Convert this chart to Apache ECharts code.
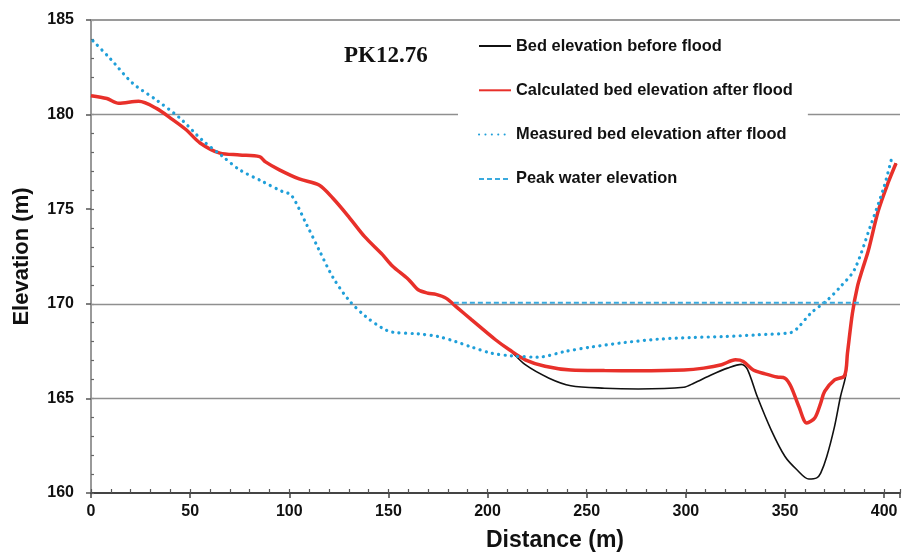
<!DOCTYPE html>
<html>
<head>
<meta charset="utf-8">
<script src="https://cdn.jsdelivr.net/npm/echarts@6/dist/echarts.min.js"></script>
<style>
html,body{margin:0;padding:0;background:#fff;}
#chart{width:903px;height:553px;}
</style>
</head>
<body>
<div id="chart"></div>
<script>
// Calculated bed elevation after flood
const calcX = [0, 8, 14, 24, 33, 41, 48, 55, 65, 75, 85, 88, 95, 105, 115, 122, 130, 138, 147, 152, 160, 165, 170, 174, 179, 185, 192, 204, 211, 219, 229, 242, 259, 276, 299, 309, 318, 325, 329, 334, 340, 346, 350, 353, 357, 361, 365, 368, 370, 375, 380, 381.5, 384, 386.5, 389, 392, 397, 402, 406];
const calcY = [181.0, 180.85, 180.6, 180.7, 180.33, 179.75, 179.2, 178.5, 177.96, 177.87, 177.78, 177.5, 177.08, 176.6, 176.28, 175.58, 174.6, 173.55, 172.6, 172.0, 171.3, 170.74, 170.56, 170.5, 170.3, 169.77, 169.15, 168.1, 167.57, 167.04, 166.7, 166.5, 166.47, 166.46, 166.5, 166.6, 166.78, 167.04, 166.95, 166.5, 166.3, 166.13, 166.07, 165.63, 164.57, 163.7, 163.96, 164.75, 165.37, 165.98, 166.19, 167.39, 169.5, 170.9, 171.8, 172.8, 174.9, 176.4, 177.43];

// Bed elevation before flood
const beforeX = [0, 8, 14, 24, 33, 41, 48, 55, 65, 75, 85, 88, 95, 105, 115, 122, 130, 138, 147, 152, 160, 165, 170, 174, 179, 185, 192, 204, 211, 219, 231, 242, 259, 276, 299, 304, 313, 321, 328, 331, 336, 343, 350, 356, 362, 366, 368, 371, 375, 378, 380.6, 381.5, 384, 386.5, 389, 392, 397, 402, 406];
const beforeY = [181.0, 180.85, 180.6, 180.7, 180.33, 179.75, 179.2, 178.5, 177.96, 177.87, 177.78, 177.5, 177.08, 176.6, 176.28, 175.58, 174.6, 173.55, 172.6, 172.0, 171.3, 170.74, 170.56, 170.5, 170.3, 169.77, 169.15, 168.1, 167.57, 166.78, 166.07, 165.67, 165.54, 165.5, 165.59, 165.8, 166.25, 166.6, 166.8, 166.55, 165.1, 163.34, 161.93, 161.23, 160.74, 160.8, 161.05, 161.9, 163.52, 165.1, 166.19, 167.39, 169.5, 170.9, 171.8, 172.8, 174.9, 176.4, 177.43];

// Measured bed elevation after flood
const measX = [1, 9.5, 21, 33, 45, 56, 66.5, 75, 86.6, 96.6, 101, 108.4, 115, 122, 130, 138.5, 147, 152, 165, 175, 184, 192, 202, 212, 225.6, 239, 252, 269, 286, 303, 319, 336, 353, 356.3, 363, 371.4, 378, 385, 393, 400, 404];
const measY = [183.9, 182.98, 181.66, 180.77, 179.8, 178.66, 177.78, 177.08, 176.46, 175.93, 175.75, 174.26, 172.85, 171.4, 170.2, 169.33, 168.71, 168.5, 168.41, 168.27, 168.0, 167.71, 167.39, 167.25, 167.18, 167.48, 167.71, 167.95, 168.13, 168.22, 168.27, 168.36, 168.48, 168.71, 169.5, 170.2, 170.91, 171.8, 174.08, 176.2, 177.78];

// Peak water elevation
const peakX = [183, 388];
const peakY = [170.05, 170.05];

const seriesNames = ['Bed elevation before flood', 'Calculated bed elevation after flood', 'Measured bed elevation after flood', 'Peak water elevation'];
const gridValues = [165, 170, 180];
const frameValue = 185;
const xTickStep = 50, xMinorStep = 10;
const yTickStep = 5, yMinorStep = 1;

function zip(xs, ys) { return xs.map((x, i) => [x, ys[i]]); }

const chart = echarts.init(document.getElementById('chart'));
const labelFont = { fontFamily: 'Liberation Sans, Arial, sans-serif', fontWeight: 'bold', fontSize: 16, color: '#111' };
const xMin = 0, xMax = 408, yMin = 160, yMax = 185;
const clear = 'rgba(0,0,0,0)';

chart.setOption({
  animation: false,
  backgroundColor: '#fff',
  grid: { left: 91, right: 0, top: 20, bottom: 60, containLabel: false },
  title: {
    text: 'PK12.76', left: 339, top: 40,
    textStyle: { fontFamily: 'Liberation Serif, Times New Roman, serif', fontWeight: 'bold', fontSize: 23, color: '#111' }
  },
  legend: {
    data: seriesNames,
    orient: 'vertical',
    left: 458, top: 31,
    padding: [7, 15, 8, 20],
    itemWidth: 32, itemHeight: 14, itemGap: 28.3,
    itemStyle: { opacity: 0 },
    backgroundColor: '#fff',
    textStyle: { fontFamily: 'Liberation Sans, Arial, sans-serif', fontWeight: 'bold', fontSize: 16.4, color: '#111' }
  },
  graphic: [{
    type: 'text', left: 486, top: 529, z: 10,
    style: { text: 'Distance (m)', font: 'bold 23px "Liberation Sans", Arial, sans-serif', fill: '#111' }
  }],
  xAxis: [{
    type: 'value', position: 'bottom', min: xMin, max: xMax, interval: xTickStep,
    axisLine: { show: true, onZero: false, lineStyle: { color: '#444', width: 2 } },
    axisTick: { show: true, inside: false, length: 5, lineStyle: { color: '#444', width: 1.5 } },
    axisLabel: Object.assign({ margin: 11, formatter: v => (v % xTickStep === 0 ? String(v) : '') }, labelFont),
    splitLine: { show: false }
  }, {
    type: 'value', position: 'bottom', min: xMin, max: xMax, interval: xMinorStep,
    axisLine: { show: false, onZero: false },
    axisTick: { show: true, inside: true, length: 4, lineStyle: { color: '#555', width: 1.2 } },
    axisLabel: { show: false },
    splitLine: { show: false }
  }],
  yAxis: [{
    type: 'value', position: 'left', min: yMin, max: yMax, interval: yTickStep,
    name: 'Elevation (m)', nameLocation: 'middle', nameGap: 58,
    nameTextStyle: { fontFamily: 'Liberation Sans, Arial, sans-serif', fontWeight: 'bold', fontSize: 22, color: '#111' },
    axisLine: { show: true, onZero: false, lineStyle: { color: '#777', width: 1.5 } },
    axisTick: { show: true, inside: false, length: 5, lineStyle: { color: '#555', width: 1.5 } },
    axisLabel: Object.assign({ margin: 17 }, labelFont),
    splitLine: { show: false }
  }, {
    type: 'value', position: 'left', min: yMin, max: yMax, interval: yMinorStep,
    axisLine: { show: false, onZero: false },
    axisTick: { show: true, inside: true, length: 3, lineStyle: { color: '#666', width: 1.2 } },
    axisLabel: { show: false },
    splitLine: { show: false }
  }],
  series: [{
    name: '_grid', type: 'line', data: [], z: 1, silent: true,
    markLine: {
      silent: true, symbol: 'none', z: 1, animation: false,
      label: { show: false },
      data: gridValues.map(v => ({ yAxis: v, lineStyle: { color: '#8f8f8f', width: 1.4, type: 'solid' } }))
        .concat([{ yAxis: frameValue, lineStyle: { color: '#9a9a9a', width: 2, type: 'solid' } }])
    }
  }, {
    name: seriesNames[0], type: 'line', data: zip(beforeX, beforeY), z: 2,
    symbol: 'none', smooth: 0.3,
    lineStyle: { color: '#111', width: 1.6 }, itemStyle: { color: clear }
  }, {
    name: seriesNames[1], type: 'line', data: zip(calcX, calcY), z: 3,
    symbol: 'none', smooth: 0.3,
    lineStyle: { color: '#e8302a', width: 3.5 }, itemStyle: { color: clear }
  }, {
    name: seriesNames[2], type: 'line', data: zip(measX, measY), z: 4,
    symbol: 'none', smooth: 0.3,
    lineStyle: { color: '#1f9fd9', width: 3.2, type: [0.1, 6.3], cap: 'round' }, itemStyle: { color: clear }
  }, {
    name: seriesNames[3], type: 'line', data: zip(peakX, peakY), z: 4,
    symbol: 'none',
    lineStyle: { color: '#3aaade', width: 2, type: [5, 3] }, itemStyle: { color: clear }
  }]
});
</script>
</body>
</html>
